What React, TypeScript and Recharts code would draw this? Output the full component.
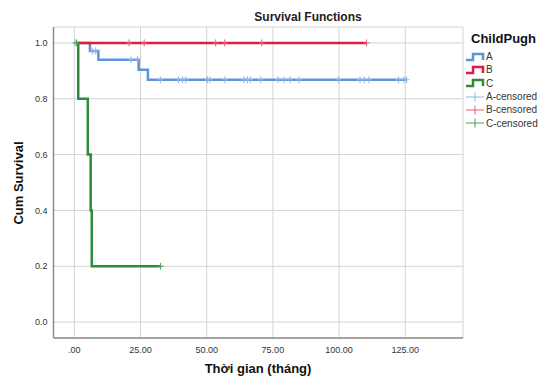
import React from "react";
import {
  ComposedChart,
  Line,
  Scatter,
  XAxis,
  YAxis,
  CartesianGrid,
} from "recharts";

const xTicks = [0, 25, 50, 75, 100, 125];
const yTicks = [0, 0.2, 0.4, 0.6, 0.8, 1.0];

const groups = ["A", "B", "C"];

const aTimes = [0, 5.9, 9.1, 24.3, 27.8, 125.5];
const aSurv = [1, 0.971, 0.94, 0.904, 0.868, 0.868];
const aCensor = [
  0.3, 6.8, 8.1, 21.4, 23.9, 32.5, 39.3, 40.9, 42.1, 50.3, 51.2, 56.9, 64.1,
  65.4, 66.5, 70.4, 77, 79.3, 81.5, 84.9, 99.7, 107.9, 109.5, 111.3, 122.4,
  124.5, 125.5,
];

const bTimes = [1.5, 110.4];
const bSurv = [1, 1];
const bCensor = [20.7, 26.4, 53.4, 56.8, 70.8, 110.4];

const cTimes = [0.9, 1.5, 5.1, 6.2, 6.6, 32.6];
const cSurv = [1, 0.8, 0.6, 0.4, 0.2, 0.2];
const cCensor = [0.9, 32.6];

const colors = { A: "#5f93d8", B: "#dc1e40", C: "#2d8c3c" };
const censorColors = { A: "#8fb6e6", B: "#e8607a", C: "#4aa35a" };

const toPoints = (times: number[], surv: number[]) =>
  times.map((t, i) => ({ t, s: surv[i] }));

const survAt = (times: number[], surv: number[], t: number) => {
  let v = surv[0];
  for (let i = 0; i < times.length; i++) if (times[i] <= t) v = surv[i];
  return v;
};

const toCensor = (times: number[], surv: number[], cens: number[]) =>
  cens.map((t) => ({ t, s: survAt(times, surv, t) }));

const aLine = toPoints(aTimes, aSurv);
const bLine = toPoints(bTimes, bSurv);
const cLine = toPoints(cTimes, cSurv);
const aCens = toCensor(aTimes, aSurv, aCensor);
const bCens = toCensor(bTimes, bSurv, bCensor);
const cCens = toCensor(cTimes, cSurv, cCensor);

const makeCross = (color: string) => (props: any) => {
  const { cx, cy } = props;
  if (cx == null || cy == null) return <g />;
  return (
    <g>
      <line x1={cx} x2={cx} y1={cy - 3.5} y2={cy + 3.5} stroke={color} strokeWidth={1} />
      <line x1={cx - 3} x2={cx + 3} y1={cy} y2={cy} stroke={color} strokeWidth={1} />
    </g>
  );
};

const font = "'Liberation Sans', Arial, sans-serif";

const StepIcon = ({ color }: { color: string }) => (
  <svg width={20} height={10} style={{ display: "block" }}>
    <polyline
      points="1,8 8,8 8,2 18,2 18,8"
      fill="none"
      stroke={color}
      strokeWidth={2.5}
    />
  </svg>
);

const CrossIcon = ({ color }: { color: string }) => (
  <svg width={20} height={10} style={{ display: "block" }}>
    <line x1={1} x2={19} y1={5} y2={5} stroke={color} strokeWidth={1} />
    <line x1={10} x2={10} y1={0.5} y2={9.5} stroke={color} strokeWidth={1} />
  </svg>
);

export default function App() {
  const legendItems = [
    ...groups.map((g) => ({ label: g, icon: <StepIcon color={(colors as any)[g]} /> })),
    ...groups.map((g) => ({
      label: `${g}-censored`,
      icon: <CrossIcon color={(censorColors as any)[g]} />,
    })),
  ];
  return (
    <div
      style={{
        position: "absolute",
        left: 0,
        top: 0,
        width: 547,
        height: 376,
        background: "#ffffff",
        fontFamily: font,
      }}
    >
      <ComposedChart
        width={547}
        height={376}
        margin={{ top: 27, right: 84, bottom: 0, left: 0 }}
      >
        <CartesianGrid stroke="#d4d4d4" strokeWidth={1} />
        <XAxis
          dataKey="t"
          type="number"
          domain={[-7.85, 146.8]}
          ticks={xTicks}
          allowDataOverflow
          height={38}
          tickSize={0}
          tickMargin={9}
          tickFormatter={(v: number) => (v === 0 ? ".00" : v.toFixed(2))}
          tick={{ fontSize: 9, fill: "#333", fontFamily: font }}
          axisLine={{ stroke: "#8c8c8c", strokeWidth: 1.5 }}
        />
        <YAxis
          dataKey="s"
          type="number"
          domain={[-0.057, 1.057]}
          ticks={yTicks}
          allowDataOverflow
          width={53.5}
          tickSize={0}
          tickMargin={6}
          tickFormatter={(v: number) => v.toFixed(1)}
          tick={{ fontSize: 9, fill: "#333", fontFamily: font }}
          axisLine={{ stroke: "#8c8c8c", strokeWidth: 1.5 }}
        />
        <Line
          data={aLine}
          dataKey="s"
          type="stepAfter"
          stroke={colors.A}
          strokeWidth={2.5}
          dot={false}
          isAnimationActive={false}
        />
        <Line
          data={cLine}
          dataKey="s"
          type="stepAfter"
          stroke={colors.C}
          strokeWidth={2.5}
          dot={false}
          isAnimationActive={false}
        />
        <Line
          data={bLine}
          dataKey="s"
          type="stepAfter"
          stroke={colors.B}
          strokeWidth={2.5}
          dot={false}
          isAnimationActive={false}
        />
        <Scatter data={aCens} dataKey="s" shape={makeCross(censorColors.A)} isAnimationActive={false} />
        <Scatter data={bCens} dataKey="s" shape={makeCross(censorColors.B)} isAnimationActive={false} />
        <Scatter data={cCens} dataKey="s" shape={makeCross(censorColors.C)} isAnimationActive={false} />
      </ComposedChart>

      <div
        style={{
          position: "absolute",
          left: 308,
          top: 10,
          transform: "translateX(-50%)",
          fontSize: 12,
          fontWeight: "bold",
          color: "#222",
          whiteSpace: "nowrap",
        }}
      >
        Survival Functions
      </div>
      <div
        style={{
          position: "absolute",
          left: 258,
          top: 361,
          transform: "translateX(-50%)",
          fontSize: 13,
          fontWeight: "bold",
          color: "#111",
          whiteSpace: "nowrap",
        }}
      >
        Thời gian (tháng)
      </div>
      <div
        style={{
          position: "absolute",
          left: 18,
          top: 183,
          transform: "translate(-50%, -50%) rotate(-90deg)",
          fontSize: 13,
          fontWeight: "bold",
          color: "#111",
          whiteSpace: "nowrap",
        }}
      >
        Cum Survival
      </div>

      <div
        style={{
          position: "absolute",
          left: 471,
          top: 31,
          fontSize: 13,
          fontWeight: "bold",
          color: "#111",
          whiteSpace: "nowrap",
        }}
      >
        ChildPugh
      </div>
      <div style={{ position: "absolute", left: 465, top: 50 }}>
        {legendItems.map((it) => (
          <div
            key={it.label}
            style={{
              display: "flex",
              alignItems: "center",
              height: 13.3,
              fontSize: 10,
              color: "#333",
              whiteSpace: "nowrap",
            }}
          >
            {it.icon}
            <span style={{ marginLeft: 1 }}>{it.label}</span>
          </div>
        ))}
      </div>
    </div>
  );
}
